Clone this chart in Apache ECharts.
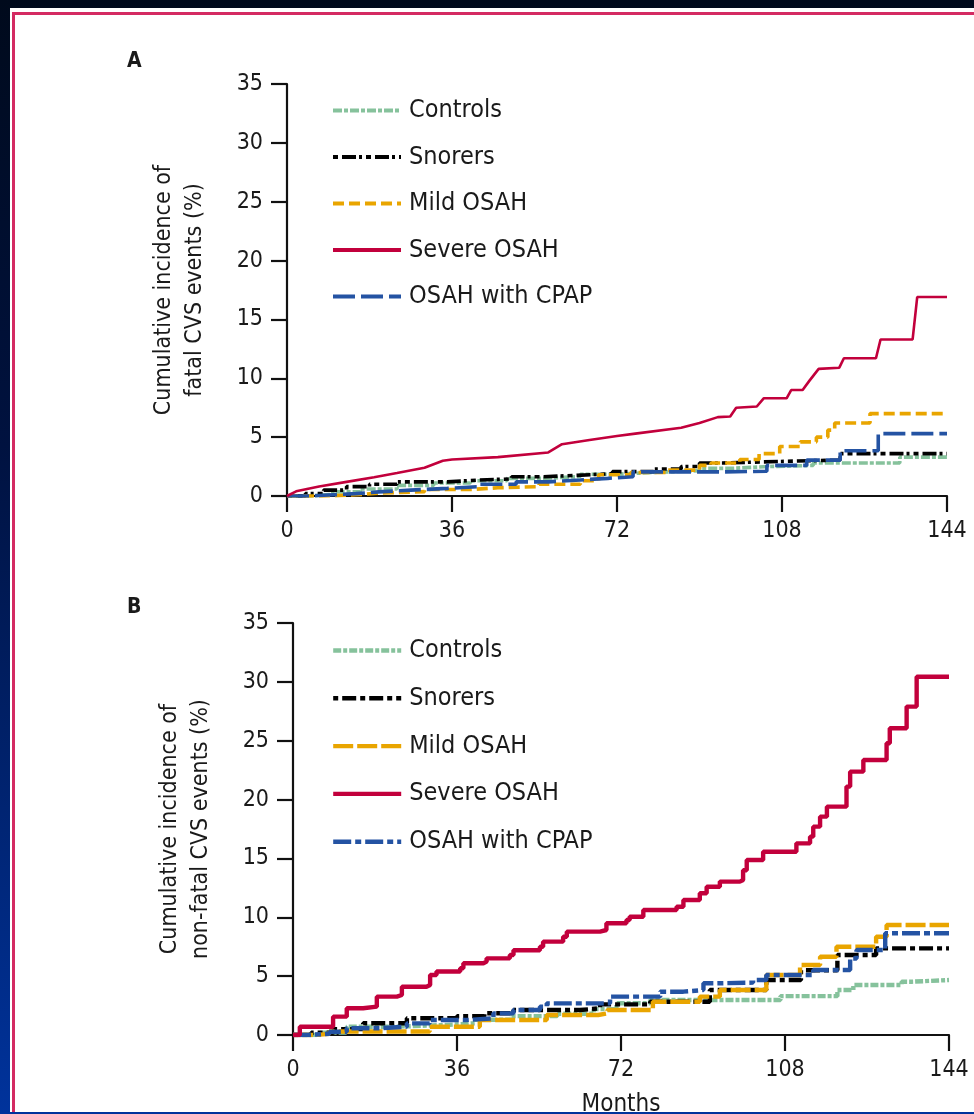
<!DOCTYPE html>
<html>
<head>
<meta charset="utf-8">
<script src="https://cdn.jsdelivr.net/npm/echarts@6/dist/echarts.min.js"></script>
<style>
  html, body { margin: 0; padding: 0; }
  body { width: 974px; height: 1114px; overflow: hidden; position: relative;
         background: linear-gradient(180deg, #000a1c 0%, #001240 40%, #00339c 100%); }
  #panel { position: absolute; left: 10px; top: 8px; width: 964px; height: 1104px; background: #fff; overflow: hidden; }
  #frame { position: absolute; left: 2px; top: 4px; width: 1100px; height: 1300px; border: 3px solid #d42a62; box-sizing: border-box; }
  #chart { position: absolute; left: 0; top: 0; width: 974px; height: 1114px; }
</style>
</head>
<body>
<div id="panel"><div id="frame"></div></div>
<div id="chart"></div>
<script>
// ---------- tick labels / categories ----------
var seriesNames = ['Controls', 'Snorers', 'Mild OSAH', 'Severe OSAH', 'OSAH with CPAP'];
var monthTicks = [0, 36, 72, 108, 144];
var percentTicks = [0, 5, 10, 15, 20, 25, 30, 35];

// ---------- Panel A: fatal CVS events (month, cumulative %) ----------
var fatalControls = [[0,0],[5,0.15],[10,0.35],[16,0.6],[24,0.9],[32,1.1],[40,1.3],[48,1.5],[56,1.65],[64,1.85],[72,2.0],[80,2.15],[90,2.35],[97,2.5],[105,2.6],[114.8,2.8],[133.7,3.3],[144,3.3]];
var fatalSnorers = [[0,0],[4,0.2],[8,0.5],[13,0.8],[18,1.0],[24,1.2],[35,1.36],[42,1.45],[49,1.64],[56,1.75],[63,1.9],[71,2.07],[80,2.3],[86,2.5],[90,2.8],[95,2.9],[104,3.06],[120.7,3.6],[144,3.6]];
var fatalMild = [[0,0],[8,0.1],[15,0.25],[20,0.37],[30,0.55],[40,0.7],[46,0.8],[55,1.0],[64,1.3],[68,1.8],[75,2.0],[83,2.2],[90,2.6],[92.5,2.8],[98.8,3.1],[103,3.6],[107.5,4.2],[112,4.6],[115.5,5.0],[118,5.6],[119.5,6.2],[127.2,7.0],[144,7.0]];
var fatalSevere = [[0,0],[2,0.4],[7,0.8],[13,1.2],[19,1.6],[24,1.95],[30,2.4],[34,3.0],[36,3.1],[46,3.3],[57,3.7],[60,4.4],[66,4.75],[72,5.1],[76,5.3],[86,5.8],[90,6.2],[94,6.7],[96.7,6.75],[98,7.5],[102.5,7.6],[104,8.3],[109,8.3],[110,9.0],[112.5,9.0],[114,9.8],[116,10.8],[120.5,10.9],[121.5,11.7],[128.5,11.7],[129.5,13.3],[136.5,13.3],[137.5,16.9],[144,16.9]];
var fatalCPAP = [[0,0],[5,0.1],[10,0.2],[15,0.35],[20,0.5],[27,0.65],[35,0.8],[42,1.0],[50,1.2],[57,1.36],[64,1.5],[70,1.64],[75.5,2.05],[95,2.1],[104.7,2.6],[113.4,3.05],[120.7,3.85],[129,5.3],[144,5.3]];

// ---------- Panel B: non-fatal CVS events (month, cumulative %) ----------
var nonfatalControls = [[0,0],[6,0.2],[11.8,0.7],[22,0.85],[33.7,1.0],[40,1.3],[48,1.6],[58,1.8],[66,2.2],[71,2.7],[78.4,2.97],[107,3.3],[119.5,3.82],[123,4.25],[133.6,4.53],[136,4.67],[144,4.67]];
var nonfatalSnorers = [[0,0],[4,0.2],[9,0.5],[15.4,1.0],[25,1.42],[36,1.6],[42,1.85],[48.4,2.12],[63,2.27],[67.4,2.6],[78.4,2.83],[91.5,3.82],[103.9,4.67],[111.5,5.5],[119.5,6.8],[128,7.36],[144,7.36]];
var nonfatalMild = [[0,0],[5,0.1],[8,0.3],[30,0.7],[41,1.27],[55.7,1.7],[67,1.84],[69,2.12],[79,2.83],[89.3,3.26],[93.7,3.82],[103.9,5.1],[111.3,5.95],[115.7,6.65],[119.3,7.5],[128,8.35],[130.3,9.35],[144,9.35]];
var nonfatalSevere = [[0,0],[1.5,0.7],[8.8,1.56],[11.8,2.27],[15.4,2.41],[18.4,3.26],[22.8,3.4],[23.9,4.1],[29.3,4.25],[30.1,5.1],[31.5,5.4],[36.7,5.67],[37.4,6.09],[41.8,6.23],[42.5,6.51],[47.6,6.8],[48.4,7.2],[54.2,7.5],[54.9,7.93],[59.3,8.35],[60.1,8.78],[67.4,8.92],[68.8,9.49],[73.2,9.77],[73.9,10.05],[76.9,10.62],[84.2,10.9],[85.7,11.47],[89.3,12.04],[90.8,12.6],[93.7,13.03],[98.1,13.17],[98.8,14.0],[99.6,14.87],[103.2,15.57],[110.5,16.28],[113.5,16.85],[114.2,17.7],[115.7,18.55],[117.2,19.4],[121.5,21.1],[122.3,22.37],[125.2,23.36],[130.3,24.78],[131.0,26.06],[134.7,27.9],[136.9,30.44],[144,30.44]];
var nonfatalCPAP = [[0,0],[3,0.1],[8,0.28],[11.8,0.57],[19,0.71],[25,0.99],[30,1.27],[38,1.42],[44,1.84],[48.4,2.12],[54.2,2.41],[55.7,2.69],[69.6,3.26],[80.6,3.68],[85.7,3.82],[90.1,4.39],[93,4.45],[101,4.67],[103.9,5.1],[114.2,5.52],[122.3,6.5],[123.7,7.22],[130,8.64],[144,8.64]];

// ---------- styles ----------
var FONT = '"DejaVu Sans Condensed", "DejaVu Sans", sans-serif';
var colors = { ctrl: '#86c29c', snor: '#000000', mild: '#e9a500', sev: '#c2003c', cpap: '#2453a3' };
var dashA = { ctrl: [9, 2, 4, 2], snor: [5, 4, 14, 3, 3, 4], mild: [11, 5], sev: 'solid', cpap: [22, 6] };
var dashB = { ctrl: [8, 2, 4, 2], snor: [5, 4, 14, 4], mild: [20, 4], sev: 'solid', cpap: [18, 4, 6, 4] };
var keys = ['ctrl', 'snor', 'mild', 'sev', 'cpap'];

var dataA = [fatalControls, fatalSnorers, fatalMild, fatalSevere, fatalCPAP];
var dataB = [nonfatalControls, nonfatalSnorers, nonfatalMild, nonfatalSevere, nonfatalCPAP];

function xAxisDef(idx, withName) {
  return {
    type: 'value', gridIndex: idx, min: monthTicks[0], max: monthTicks[monthTicks.length - 1],
    interval: monthTicks[1] - monthTicks[0],
    axisLine: { lineStyle: { color: '#111', width: 2.2 } },
    axisTick: { length: 16, lineStyle: { color: '#111', width: 2.2 } },
    axisLabel: { margin: 24, fontSize: 23, color: '#1a1a1a', fontFamily: FONT },
    splitLine: { show: false },
    name: withName ? 'Months' : '', nameLocation: 'middle', nameGap: 58,
    nameTextStyle: { fontSize: 24, color: '#1a1a1a', fontFamily: FONT }
  };
}
function yAxisDef(idx, title) {
  return {
    type: 'value', gridIndex: idx, min: percentTicks[0], max: percentTicks[percentTicks.length - 1],
    interval: percentTicks[1] - percentTicks[0],
    axisLine: { show: true, lineStyle: { color: '#111', width: 2.2 } },
    axisTick: { show: true, length: 16, lineStyle: { color: '#111', width: 2.2 } },
    axisLabel: { margin: 24, fontSize: 23, color: '#1a1a1a', fontFamily: FONT },
    splitLine: { show: false },
    name: title, nameLocation: 'middle', nameGap: 76, nameRotate: 90,
    nameTextStyle: { fontSize: 23, lineHeight: 31, color: '#1a1a1a', fontFamily: FONT, align: 'center' }
  };
}

var series = [];
keys.forEach(function (k, i) {
  series.push({
    name: seriesNames[i], type: 'line', xAxisIndex: 0, yAxisIndex: 0,
    data: dataA[i], symbol: 'none', step: k === 'sev' ? false : 'end',
    lineStyle: { color: colors[k], width: k === 'sev' ? 2.6 : 3.6, type: dashA[k] },
    itemStyle: { color: colors[k] }, z: k === 'sev' ? 3 : 2
  });
});
keys.forEach(function (k, i) {
  series.push({
    name: seriesNames[i], type: 'line', xAxisIndex: 1, yAxisIndex: 1,
    data: dataB[i], symbol: 'none', step: 'end',
    lineStyle: { color: colors[k], width: 4.4, type: dashB[k] },
    itemStyle: { color: colors[k] }, z: k === 'sev' ? 3 : 2
  });
});

function legendDef(top, gap, dash, width) {
  return {
    orient: 'vertical', left: 326, top: top, itemWidth: 68, itemHeight: 24, itemGap: gap,
    selectedMode: false,
    textStyle: { fontSize: 25, color: '#1a1a1a', fontFamily: FONT, padding: [0, 0, 0, 3] },
    data: keys.map(function (k, i) {
      return { name: seriesNames[i],
               itemStyle: { opacity: 0 },
               lineStyle: { color: colors[k], width: width, type: dash[k] } };
    })
  };
}

var chart = echarts.init(document.getElementById('chart'), null, { renderer: 'canvas' });
chart.setOption({
  animation: false,
  backgroundColor: 'transparent',
  title: [
    { text: 'A', left: 122, top: 46, textStyle: { fontSize: 21, fontWeight: 'bold', color: '#1a1a1a', fontFamily: FONT } },
    { text: 'B', left: 122, top: 592, textStyle: { fontSize: 21, fontWeight: 'bold', color: '#1a1a1a', fontFamily: FONT } }
  ],
  legend: [legendDef(93, 21.5, dashA, 4), legendDef(633, 22.8, dashB, 4.4)],
  grid: [
    { left: 287, top: 84, width: 660, height: 412, outerBoundsMode: 'none', containLabel: false },
    { left: 293, top: 623, width: 656, height: 412, outerBoundsMode: 'none', containLabel: false }
  ],
  xAxis: [xAxisDef(0, false), xAxisDef(1, true)],
  yAxis: [
    yAxisDef(0, 'Cumulative incidence of\nfatal CVS events (%)'),
    yAxisDef(1, 'Cumulative incidence of\nnon-fatal CVS events (%)')
  ],
  series: series
});
</script>
</body>
</html>
